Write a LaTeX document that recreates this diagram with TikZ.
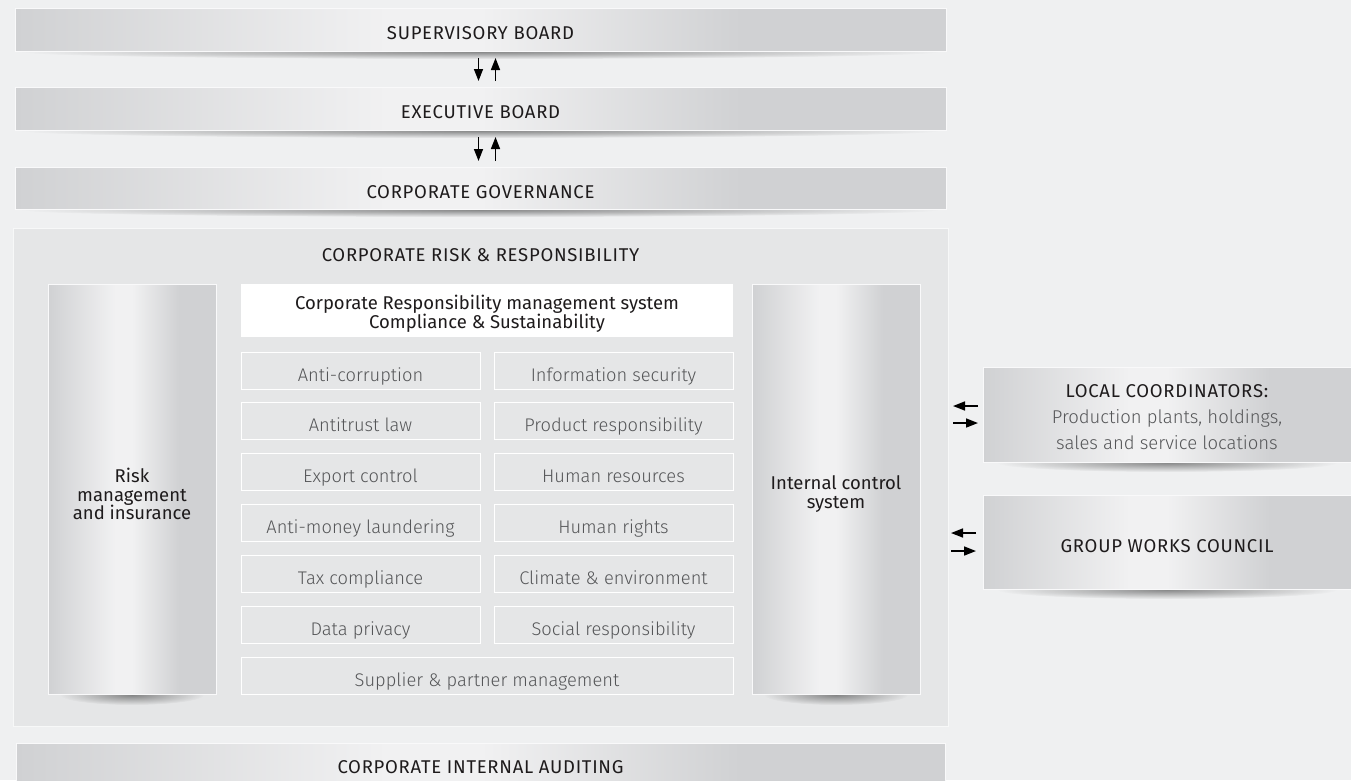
\documentclass[tikz,border=0pt]{standalone}
\usepackage{fontspec}
\setmainfont{Fira Sans}
\newfontfamily\lightfont{Fira Sans Light}
\newfontfamily\capfont{Fira Sans}[LetterSpace=4]
\usetikzlibrary{fadings,arrows.meta,calc}
\definecolor{bg}{HTML}{EFF0F1}
\definecolor{boxbg}{HTML}{E5E6E7}
\definecolor{gdark}{HTML}{D0D1D3}
\definecolor{glight}{HTML}{F1F1F2}
\definecolor{txt}{HTML}{1E1B1C}
\definecolor{itxt}{HTML}{555658}
\pgfdeclarehorizontalshading{barshade}{100bp}{color(0bp)=(gdark); color(25bp)=(gdark); color(45bp)=(glight); color(50bp)=(glight); color(64bp)=(gdark); color(100bp)=(gdark)}
\tikzfading[name=shfade, inner color=transparent!0, outer color=transparent!100]
\pgfdeclarelayer{back}\pgfdeclarelayer{shade}
\pgfsetlayers{back,shade,main}
\tikzset{
 bar/.style={shading=barshade, draw=white!60!glight, line width=0.6pt, inner sep=0pt, outer sep=0pt, anchor=north west, text=txt, font=\capfont\fontsize{18.5}{19}\selectfont, align=center},
 oneline/.style={text height=#1, text depth=0pt},
 boxlabel/.style={text=txt, font=\fontsize{18.5}{18.5}\selectfont, align=center, inner sep=0pt},
 item/.style={fill=boxbg, draw=white, line width=0.9pt, inner sep=0pt, outer sep=0pt, anchor=north west, minimum height=37, minimum width=239, text height=21pt, text depth=0pt, text=itxt, font=\lightfont\fontsize{18.3}{19}\selectfont},
 arr/.style={line width=1.6pt, -{Triangle[length=12pt,width=9pt]}},
 shadowsh/.style={fill=black, opacity=0.42, path fading=shfade},
 title/.style={text=txt, font=\capfont\fontsize{18.5}{19}\selectfont, inner sep=0pt}
}
\newcommand\dropshadow[3]{\begin{pgfonlayer}{shade}\fill[shadowsh] ($(#1.south)+(0,1)$) ellipse [x radius=#2, y radius=#3];\end{pgfonlayer}}
\begin{document}
\begin{tikzpicture}[x=1pt,y=-1pt]
\useasboundingbox (0,0) rectangle (1351,780);
\begin{pgfonlayer}{back}
\fill[bg] (0,0) rectangle (1351,780);
\node[fill=boxbg, draw=white!70!boxbg, line width=0.8pt, minimum width=935, minimum height=498, anchor=north west, inner sep=0pt, outer sep=0pt] (crr) at (13,228) {};
\end{pgfonlayer}
% boards
\node[bar, oneline=20pt, minimum width=931, minimum height=43] (sb) at (15,8) {SUPERVISORY BOARD};
\node[bar, oneline=20pt, minimum width=931, minimum height=43] (eb) at (15,87) {EXECUTIVE BOARD};
\node[bar, oneline=21pt, minimum width=931, minimum height=42] (cg) at (15,167) {CORPORATE GOVERNANCE};
\dropshadow{sb}{460pt}{7pt}
\dropshadow{eb}{460pt}{7pt}
\dropshadow{cg}{460pt}{7pt}
\draw[arr] ($(sb.south)+(-2,7)$) -- ($(eb.north)+(-2,-6)$);
\draw[arr] ($(eb.north)+(15,-6)$) -- ($(sb.south)+(15,7)$);
\draw[arr] ($(eb.south)+(-2,7)$) -- ($(cg.north)+(-2,-6)$);
\draw[arr] ($(cg.north)+(15,-6)$) -- ($(eb.south)+(15,7)$);
% corporate risk box
\node[title] (crrt) at (480.5,255.5) {CORPORATE RISK \& RESPONSIBILITY};
\node[bar, minimum width=168, minimum height=410, label={[boxlabel, yshift=-5pt]center:Risk\\management\\and insurance}] (rm) at (48,284) {};
\node[bar, minimum width=168, minimum height=410, label={[boxlabel, yshift=-5pt]center:Internal control\\system}] (ics) at (752,284) {};
\dropshadow{rm}{72pt}{10pt}
\dropshadow{ics}{72pt}{10pt}
\node[fill=white, minimum width=492, minimum height=53, anchor=north west, inner sep=0pt, outer sep=0pt, label={[boxlabel, yshift=-3pt, font=\fontsize{18.5}{18.6}\selectfont]center:Corporate Responsibility management system\\Compliance \& Sustainability}] (crms) at (241,284) {};
\node[item] (i1) at (241,352) {Anti-corruption};
\node[item] (i2) at (494,352) {Information security};
\node[item] (i3) at (241,402.8) {Antitrust law};
\node[item] (i4) at (494,402.8) {Product responsibility};
\node[item] (i5) at (241,453.6) {Export control};
\node[item] (i6) at (494,453.6) {Human resources};
\node[item] (i7) at (241,504.4) {Anti-money laundering};
\node[item] (i8) at (494,504.4) {Human rights};
\node[item] (i9) at (241,555.2) {Tax compliance};
\node[item] (i10) at (494,555.2) {Climate \& environment};
\node[item] (i11) at (241,606) {Data privacy};
\node[item] (i12) at (494,606) {Social responsibility};
\node[item, minimum width=492] (i13) at (241,657) {Supplier \& partner management};
% right side
\node[bar, minimum width=368, minimum height=95, label={[boxlabel, yshift=-3pt, font=\capfont\fontsize{18.5}{26}\selectfont]center:LOCAL COORDINATORS:\\{\lightfont\color{itxt}Production plants, holdings,}\\{\lightfont\color{itxt}sales and service locations}}] (lc) at (983,367) {};
\node[bar, oneline=20pt, minimum width=368, minimum height=94] (gwc) at (983,495) {GROUP WORKS COUNCIL};
\dropshadow{lc}{170pt}{9pt}
\dropshadow{gwc}{170pt}{9pt}
\draw[arr] ($(lc.west)+(-5,-8.5)$) -- ($(lc.west -| crr.east)+(5,-8.5)$);
\draw[arr] ($(lc.west -| crr.east)+(5,8.5)$) -- ($(lc.west)+(-5,8.5)$);
\draw[arr] ($(gwc.west)+(-7,-9)$) -- ($(gwc.west -| crr.east)+(3,-9)$);
\draw[arr] ($(gwc.west -| crr.east)+(3,9)$) -- ($(gwc.west)+(-7,9)$);
% bottom
\node[bar, oneline=14pt, minimum width=929, minimum height=47] (cia) at (16,743) {CORPORATE INTERNAL AUDITING};
\end{tikzpicture}
\end{document}
